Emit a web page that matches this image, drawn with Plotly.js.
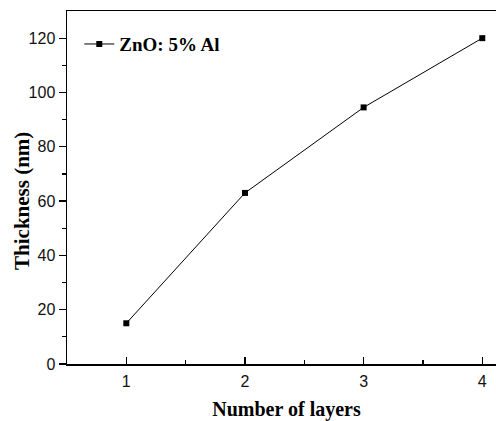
<!DOCTYPE html>
<html>
<head>
<meta charset="utf-8">
<script src="https://cdn.plot.ly/plotly-3.0.1.min.js"></script>
<style>
  html, body { margin: 0; padding: 0; background: #ffffff; overflow: hidden; }
  #chart { width: 510px; height: 421px; }
</style>
</head>
<body>
<div id="chart"></div>
<script>
// Film thickness against number of deposited layers
const layers = [1, 2, 3, 4];
const thickness = [15, 63, 94.5, 120];
const seriesName = 'ZnO: 5% Al';
const yTickValues = [0, 20, 40, 60, 80, 100, 120];
const yMinorValues = [10, 30, 50, 70, 90, 110];
const xTickValues = [1, 2, 3, 4];
const xTitle = 'Number of layers';
const yTitle = 'Thickness (nm)';

const serif = 'Liberation Serif, Times New Roman, serif';
const sans = 'Liberation Sans, Arial, sans-serif';

const trace = {
  x: layers,
  y: thickness,
  name: seriesName,
  type: 'scatter',
  mode: 'lines+markers',
  line: { color: '#000000', width: 1 },
  marker: { symbol: 'square', size: 6, color: '#000000' }
};

const layout = {
  width: 510,
  height: 421,
  margin: { l: 67, r: 4, t: 11, b: 57 },
  paper_bgcolor: '#ffffff',
  plot_bgcolor: '#ffffff',
  showlegend: true,
  legend: {
    x: 0.028, y: 0.96, xanchor: 'left', yanchor: 'top',
    bgcolor: 'rgba(0,0,0,0)',
    font: { family: serif, size: 19, color: '#000000', weight: 700 },
    itemwidth: 30
  },
  xaxis: {
    range: [0.5, 4.2],
    tickvals: xTickValues,
    ticktext: xTickValues.map(String),
    ticks: 'inside',
    ticklen: 7,
    tickwidth: 1.2,
    tickcolor: '#000000',
    showline: true,
    linecolor: '#000000',
    linewidth: 1.5,
    mirror: true,
    showgrid: false,
    zeroline: false,
    tickfont: { family: sans, size: 16, color: '#111111' },
    ticklabelstandoff: 2,
    minor: { tickvals: [1.5, 2.5, 3.5], ticks: 'inside', ticklen: 4, tickwidth: 1.2, tickcolor: '#000000', showgrid: false },
    title: {
      text: xTitle,
      font: { family: serif, size: 20, color: '#000000', weight: 700 },
      standoff: 15
    }
  },
  yaxis: {
    range: [0, 130],
    tickvals: yTickValues,
    ticktext: yTickValues.map(String),
    ticks: 'outside',
    ticklen: 7,
    tickwidth: 1.2,
    tickcolor: '#000000',
    showline: true,
    linecolor: '#000000',
    linewidth: 1.5,
    mirror: false,
    showgrid: false,
    zeroline: false,
    tickfont: { family: sans, size: 16, color: '#111111' },
    minor: { tickvals: yMinorValues, ticks: 'outside', ticklen: 4, tickwidth: 1.2, tickcolor: '#000000', showgrid: false }
  },
  annotations: [{
    // vertical axis title, placed beside the tick labels
    text: yTitle,
    xref: 'paper', yref: 'paper',
    x: 0, y: 0.462,
    xanchor: 'center', yanchor: 'middle',
    xshift: -45,
    textangle: -90,
    showarrow: false,
    font: { family: serif, size: 21, color: '#000000', weight: 700 }
  }]
};

Plotly.newPlot('chart', [trace], layout, { displayModeBar: false, staticPlot: true });
</script>
</body>
</html>
